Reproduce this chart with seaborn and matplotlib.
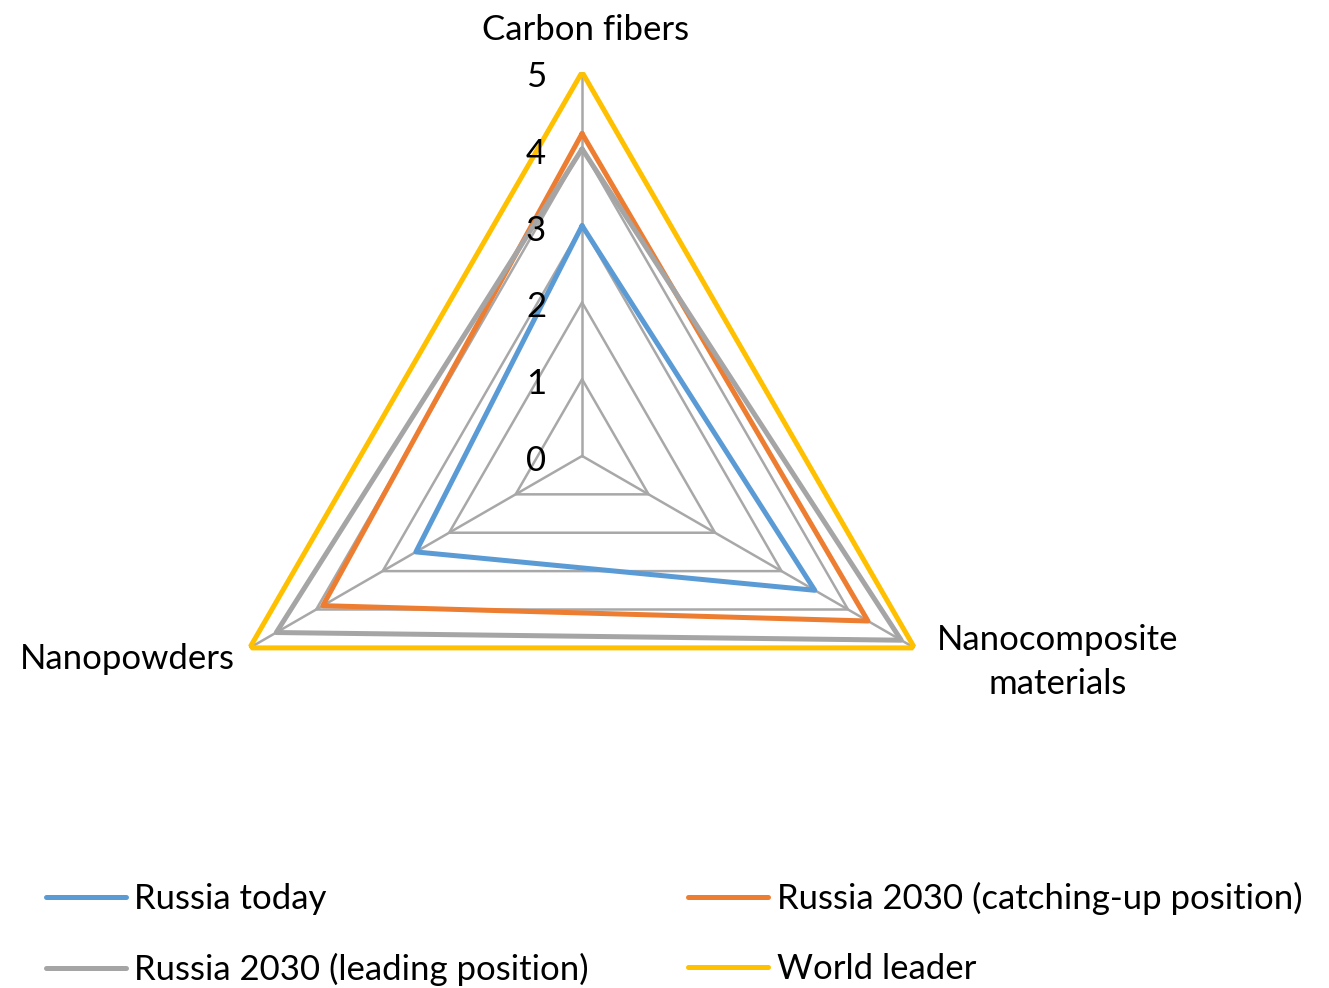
import numpy as np
import pandas as pd
import matplotlib
matplotlib.use("Agg")
import matplotlib.pyplot as plt
import seaborn as sns

categories = ["Carbon fibers", "Nanocomposite\nmaterials", "Nanopowders"]
series_names = ["Russia today", "Russia 2030 (catching-up position)",
                "Russia 2030 (leading position)", "World leader"]
russia_today = [3, 3.5, 2.5]
russia_catchup = [4.2, 4.3, 3.9]
russia_leading = [4, 4.8, 4.6]
world_leader = [5, 5, 5]
levels = [0, 1, 2, 3, 4, 5]
colors = ["#5B9BD5", "#ED7D31", "#A5A5A5", "#FFC000"]

sns.set_theme(style="white")
plt.rcParams['font.family'] = ['Lato', 'DejaVu Sans']
plt.rcParams['text.color'] = 'black'

angles = np.linspace(0, 2 * np.pi, len(categories), endpoint=False)
closed = np.append(angles, angles[0])

rows = []
for name, vals in zip(series_names, [russia_today, russia_catchup, russia_leading, world_leader]):
    v = list(vals) + [vals[0]]
    for t, r in zip(closed, v):
        rows.append({"series": name, "theta": t, "value": r})
df = pd.DataFrame(rows)

fig = plt.figure(figsize=(13.29, 9.88), dpi=100)
ax = fig.add_axes([0.149, 0.150, 0.578, 0.777], projection="polar")
ax.set_theta_offset(np.pi / 2)
ax.set_theta_direction(-1)
ax.set_ylim(0, 5)
ax.grid(False)
ax.spines["polar"].set_visible(False)
ax.set_xticks([])
ax.set_yticks([])

# polygon grid + spokes
for lv in levels[1:]:
    ax.plot(closed, [lv] * len(closed), color="#A8A8A8", lw=1.8, zorder=1)
for t in angles:
    ax.plot([t, t], [0, 5], color="#A8A8A8", lw=1.8, zorder=1)

sns.lineplot(data=df, x="theta", y="value", hue="series", units="series",
             estimator=None, sort=False, palette=colors, linewidth=3.6,
             ax=ax, zorder=3)
ax.set_xlabel("")
ax.set_ylabel("")
handles, labels = ax.get_legend_handles_labels()
ax.get_legend().remove()

fs = 25
for lv in levels:
    ax.annotate(str(lv), xy=(0, lv), xytext=(-46, -5), textcoords="offset pixels",
                ha="center", va="center", fontsize=fs, color="black")

ax.annotate(categories[0], xy=(angles[0], 5), xytext=(3, 42), textcoords="offset pixels",
            ha="center", va="center", fontsize=fs, color="black")
ax.annotate(categories[1], xy=(angles[1], 5), xytext=(143, -14), textcoords="offset pixels",
            ha="center", va="center", fontsize=fs, multialignment="center",
            linespacing=1.45, color="black")
ax.annotate(categories[2], xy=(angles[2], 5), xytext=(-15, -11), textcoords="offset pixels",
            ha="right", va="center", fontsize=fs, color="black")

order = [0, 2, 1, 3]
leg = fig.legend([handles[i] for i in order], [labels[i] for i in order],
                 loc="lower left", bbox_to_anchor=(0.011, -0.030), ncol=2, frameon=False,
                 fontsize=fs, handlelength=2.3, handletextpad=0.25, columnspacing=2.85,
                 labelspacing=1.1)
for h in leg.legend_handles:
    h.set_linewidth(3.6)

fig.savefig("out.png", dpi=100)
